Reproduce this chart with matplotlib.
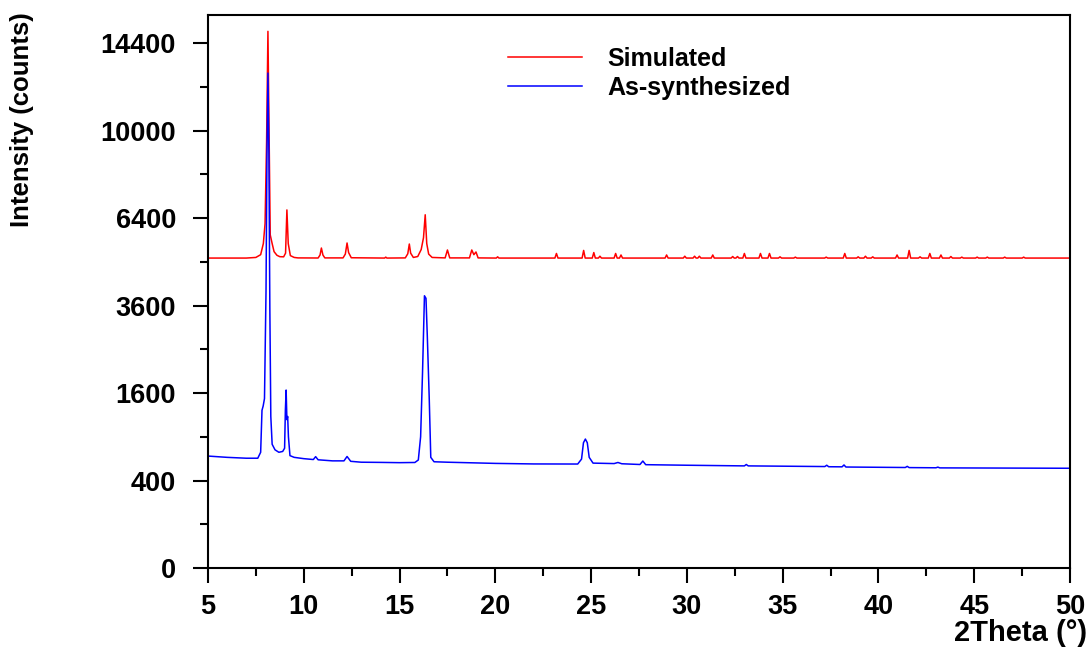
#!/usr/bin/env python3
# -*- coding: utf-8 -*-
"""
XRD pattern: simulated vs as-synthesized, square-root intensity axis.
"""

import numpy as np
import matplotlib.pyplot as plt

# simulated pattern, points (2theta, counts)
sim_2theta = [
    5.0, 7.0, 7.5, 7.75, 7.89, 7.98, 8.06, 8.13, 8.19, 8.25, 8.35, 8.45, 8.6, 8.75,
    8.95, 9.05, 9.12, 9.19, 9.3, 9.5, 9.7,
    10.75, 10.85, 10.92, 11.0, 11.1,
    12.05, 12.17, 12.26, 12.34, 12.48,
    14.22, 14.28, 14.34,
    15.3, 15.43, 15.51, 15.58, 15.72, 15.95, 16.13, 16.25, 16.34, 16.42, 16.52, 16.7,
    17.38, 17.5, 17.62,
    18.65, 18.77, 18.88, 18.99, 19.1,
    20.05, 20.12, 20.19,
    23.11, 23.19, 23.27, 24.53, 24.61, 24.69, 25.06, 25.14, 25.22, 25.38, 25.46, 25.54,
    26.2, 26.28, 26.36, 26.48, 26.56, 26.64, 28.86, 28.94, 29.02,
    29.81, 29.89, 29.97, 30.32, 30.4, 30.48, 30.57, 30.65, 30.73,
    31.27, 31.35, 31.43, 32.31, 32.39, 32.47, 32.56, 32.64, 32.72,
    32.92, 33.0, 33.08, 33.76, 33.84, 33.92, 34.23, 34.31, 34.39,
    34.78, 34.86, 34.94, 35.58, 35.66, 35.74, 37.19, 37.27, 37.35,
    38.16, 38.24, 38.32, 38.86, 38.94, 39.02, 39.24, 39.32, 39.4,
    39.62, 39.7, 39.78, 40.89, 40.97, 41.05, 41.52, 41.6, 41.68,
    42.09, 42.17, 42.25, 42.6, 42.68, 42.76, 43.18, 43.26, 43.34,
    43.7, 43.78, 43.86, 44.27, 44.35, 44.43, 45.07, 45.15, 45.23,
    45.6, 45.68, 45.76, 46.51, 46.59, 46.67, 47.5, 47.58, 47.66,
    50.0,
]
sim_counts = [
    5020, 5020, 5040, 5130, 5500, 6200, 9500, 15050, 10000, 5800, 5500, 5230, 5110, 5065,
    5060, 5180, 6700, 5500, 5100, 5040, 5025,
    5022, 5120, 5350, 5120, 5025,
    5025, 5150, 5520, 5200, 5030,
    5020, 5050, 5020,
    5025, 5160, 5485, 5180, 5040, 5070, 5300, 5700, 6520, 5500, 5150, 5040,
    5025, 5285, 5025,
    5025, 5285, 5130, 5220, 5025,
    5020, 5060, 5020,
    5020, 5170, 5020, 5020, 5270, 5020, 5020, 5200, 5020, 5020, 5080, 5020,
    5020, 5170, 5020, 5020, 5120, 5020, 5020, 5120, 5020,
    5020, 5080, 5020, 5020, 5080, 5020, 5020, 5080, 5020,
    5020, 5120, 5020, 5020, 5070, 5020, 5020, 5070, 5020,
    5020, 5170, 5020, 5020, 5170, 5020, 5020, 5170, 5020,
    5020, 5060, 5020, 5020, 5050, 5020, 5020, 5050, 5020,
    5020, 5170, 5020, 5020, 5060, 5020, 5020, 5080, 5020,
    5020, 5060, 5020, 5020, 5120, 5020, 5020, 5270, 5020,
    5020, 5060, 5020, 5020, 5170, 5020, 5020, 5120, 5020,
    5020, 5070, 5020, 5020, 5050, 5020, 5020, 5050, 5020,
    5020, 5050, 5020, 5020, 5050, 5020, 5020, 5050, 5020,
    5020,
]

# as-synthesized pattern, points
exp_2theta = [
    5.0, 6.0, 7.0, 7.6, 7.75, 7.82, 7.88, 7.95, 8.03, 8.08, 8.13, 8.18, 8.23, 8.28,
    8.35, 8.5, 8.7, 8.9, 9.0, 9.04, 9.08, 9.12, 9.16, 9.2, 9.28, 9.5,
    10.0, 10.5, 10.62, 10.75, 11.5, 12.1, 12.26, 12.45, 13.0, 14.0, 15.0, 15.8,
    15.98, 16.1, 16.2, 16.3, 16.38, 16.45, 16.55, 16.63, 16.8, 17.5, 20.0, 22.0,
    24.3, 24.5, 24.6, 24.7, 24.8, 24.9, 25.1, 26.2, 26.4, 26.6, 27.55, 27.7, 27.85,
    30.0, 33.0, 33.1, 33.2, 37.2, 37.3, 37.4, 38.1, 38.2, 38.3,
    41.4, 41.5, 41.6, 43.0, 43.1, 43.2, 50.0,
]
exp_counts = [
    655, 640, 630, 630, 700, 1300, 1370, 1500, 4000, 9000, 12800, 9000, 3500, 1200,
    800, 730, 700, 710, 750, 1300, 1655, 1150, 1200, 900, 660, 640,
    625, 615, 648, 612, 600, 600, 650, 595, 585, 583, 580, 582,
    610, 900, 2000, 3873, 3800, 2800, 1500, 640, 590, 585, 572, 566,
    565, 620, 820, 869, 820, 640, 575, 570, 582, 568, 560, 598, 558,
    552, 545, 560, 545, 538, 552, 536, 535, 555, 533,
    528, 540, 527, 525, 532, 524, 520,
]

y_major = [0, 400, 1600, 3600, 6400, 10000, 14400]
y_minor = [100, 900, 2500, 4900, 8100, 12100]
x_major = [5, 10, 15, 20, 25, 30, 35, 40, 45, 50]
x_minor = [7.5, 12.5, 17.5, 22.5, 27.5, 32.5, 37.5, 42.5, 47.5]


def fwd(v):
    return np.sqrt(np.clip(v, 0, None))


def inv(v):
    return np.square(v)


def make_plot():
    plt.rcParams['font.family'] = ['Liberation Sans', 'DejaVu Sans']
    plt.rcParams['font.weight'] = 'bold'

    fig = plt.figure(figsize=(10.9, 6.52), dpi=100)
    ax = fig.add_axes([0.1908, 0.1288, 0.7909, 0.8482])

    ax.plot(sim_2theta, sim_counts, color='#ff0000', lw=1.1, label='Simulated')
    ax.plot(exp_2theta, exp_counts, color='#0000ff', lw=1.1, label='As-synthesized')

    ax.set_yscale('function', functions=(fwd, inv))
    ax.set_xlim(5, 50)
    ax.set_ylim(0, 15980)
    ax.set_yticks(y_major)
    ax.set_yticklabels([str(v) for v in y_major])
    ax.set_yticks(y_minor, minor=True)
    ax.set_xticks(x_major)
    ax.set_xticklabels([str(v) for v in x_major])
    ax.set_xticks(x_minor, minor=True)

    ax.tick_params(which='major', direction='out', length=11, width=1.5,
                   labelsize=19.5)
    ax.tick_params(which='minor', direction='out', length=6, width=1.5)
    ax.tick_params(axis='y', which='major', pad=12)
    ax.tick_params(axis='x', which='major', pad=8)
    for sp in ax.spines.values():
        sp.set_linewidth(1.5)

    ax.legend(loc='upper left', bbox_to_anchor=(0.348, 0.942), frameon=False,
              fontsize=18, handlelength=2.96, handletextpad=1.0,
              labelspacing=0.2, borderpad=0, borderaxespad=0)

    fig.text(0.0202, 0.817, 'Intensity (counts)', rotation=90, ha='center',
             va='center', fontsize=18.5, fontweight='bold')
    fig.text(0.9972, 0.0291, '2Theta (\u00b0)', ha='right', va='center',
             fontsize=21, fontweight='bold')

    fig.savefig('out.png', dpi=100)


if __name__ == '__main__':
    make_plot()
